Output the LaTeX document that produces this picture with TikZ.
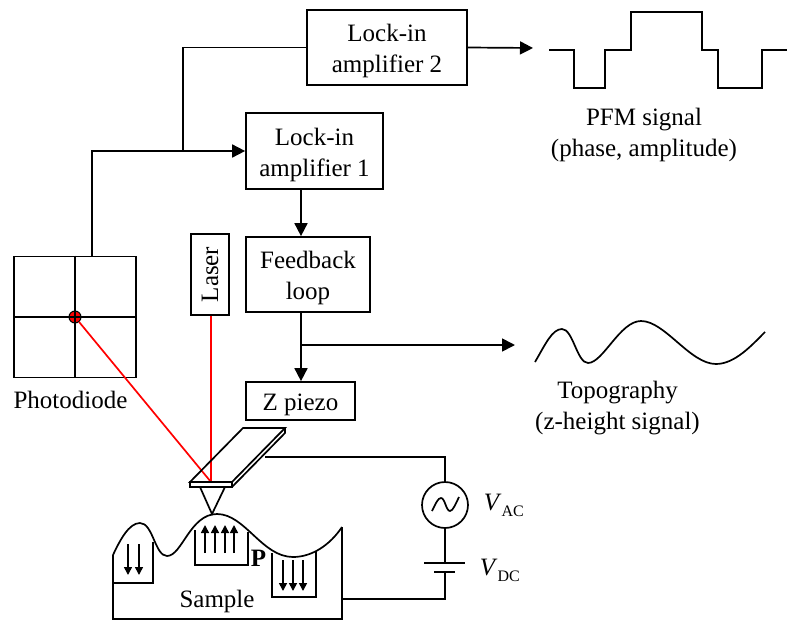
\documentclass[tikz,border=0pt]{standalone}
\usepackage{fontspec}
\setmainfont{Liberation Serif}
\usetikzlibrary{arrows.meta}

\newcommand{\volt}[1]{\textit{V}\raisebox{-6pt}{\fontsize{16}{16}\selectfont #1}}

\begin{document}
\begin{tikzpicture}[x=1pt,y=-1pt,
    line width=1.7pt,
    font=\fontsize{25}{31}\selectfont,
    block/.style ={rectangle, draw, inner sep = 0pt, align=center},
    twolines/.style ={block, text height=55.5pt},
    label/.style ={inner sep = 0pt, align=center},
    arrow/.style ={-{Triangle[length=13pt,width=13pt]}},
    small/.style ={-{Triangle[length=8pt,width=8pt]},line width=1.6pt}]
   \useasboundingbox (0,0) rectangle (787,621);

   \node[twolines, minimum width=160pt, minimum height=75pt] (L2) at (387,47.5) {Lock-in\\amplifier 2};
   \node[twolines, minimum width=137pt, minimum height=76pt] (L1) at (314.5,151) {Lock-in\\amplifier 1};
   \node[twolines, minimum width=124pt, minimum height=75pt] (F) at (308,274.5) {Feedback\\loop};
   \node[block, text height=25pt, minimum width=109pt, minimum height=38pt] (Z) at (300.5,401) {Z piezo};
   \node[block, minimum width=38pt, minimum height=81pt] (L) at (210,274.5) {\rotatebox{90}{Laser}};
   \node[block, minimum width=122pt, minimum height=121pt] (D) at (75,317) {};
   \node[circle, draw, fill=red, inner sep = 0pt, minimum size=12pt, line width=1pt] (R) at (75,317) {};
   \node[circle, draw, inner sep = 0pt, minimum size=46pt] (AC) at (445,505) {};

   \node[label] (T1) at (70.5,399.5) {Photodiode};
   \node[label] (T2) at (644,134.5) {PFM signal\\(phase, amplitude)};
   \node[label] (T3) at (617.5,408) {Topography\\(z-height signal)};
   \node[label] (T4) at (217,601) {Sample};
   \node[label] (T5) at (258.5,558.5) {\textbf{P}};
   \node[label, anchor=base west] (T6) at (483,510) {\volt{AC}};
   \node[label, anchor=base west] (T7) at (479,575) {\volt{DC}};

   \coordinate (A) at (183,151);
   \coordinate (B) at (301,345);
   \coordinate (C) at (533,48);
   \coordinate (E) at (515,345);
   \coordinate (G) at (211,482);
   \coordinate (I) at (265,457);
   \coordinate (J) at (445,563);
   \coordinate (K) at (445,572);
   \coordinate (M) at (342,599);

   % block connections
   \draw[arrow] (D.north -| 92,0) |- (L1.west |- A);
   \draw (A) |- (L2.west);
   \draw[arrow] (L2.east) to (C);
   \draw[arrow] (L1.south -| B) to (F.north -| B);
   \draw[arrow] (F.south -| B) to (Z.north -| B);
   \draw[arrow] (B) to (E);

   % photodiode cross
   \draw (D.north) to (D.south);
   \draw (D.west) to (D.east);

   % laser beam
   \draw[red] (L.south -| G) to (G);
   \draw[red] (R) to (G);

   % cantilever and tip
   \draw (190,482) -- (243,428) -- (285,428) -- (232,482) -- cycle;
   \draw (190,482) rectangle (232,487);
   \draw (232,487) -- (285,433) -- (285,428);
   \draw (200,487) -- (212,514) -- (225,487);

   % sample
   \draw (113,555) .. controls (120,540) and (129,523) .. (140,523)
      .. controls (153,523) and (155,556) .. (167,556)
      .. controls (182,556) and (190,514) .. (217,514)
      .. controls (245,514) and (262,557) .. (293,557)
      .. controls (312,557) and (330,545) .. (342,527);
   \draw (113,555) -- (113,619) -- (342,619) -- (342,527);
   \draw (112,583) -- (153,583) -- (153,542);
   \draw (195,530) -- (195,565) -- (248,565) -- (248,532);
   \draw (272,553) -- (272,597) -- (316,597) -- (316,551);

   % polarisation
   \foreach \x in {128,139} \draw[small] (\x,544) -- (\x,575);
   \foreach \x in {205,215,225,234} \draw[small] (\x,553) -- (\x,525);
   \foreach \x in {283,293,303} \draw[small] (\x,560) -- (\x,591);

   % circuit
   \draw (I) -| (AC.north);
   \draw (AC.south) to (J);
   \draw (424,563) -- (465,563);
   \draw (434,572) -- (455,572);
   \draw (K) |- (M);
   \draw (432,511) .. controls (436,503) and (438,498) .. (441,498)
      .. controls (445,498) and (446,511) .. (450,511)
      .. controls (453,511) and (456,503) .. (459,497);

   % signals
   \draw (549,50) -- (574,50) -- (574,88) -- (605,88) -- (605,50) -- (631,50) -- (631,12)
      -- (702,12) -- (702,50) -- (718,50) -- (718,88) -- (762,88) -- (762,50) -- (787,50);
   \draw (535,362) .. controls (545,345) and (552,329) .. (562,329)
      .. controls (573,329) and (577,363) .. (588,363)
      .. controls (603,363) and (620,321) .. (641,321)
      .. controls (665,321) and (690,364) .. (716,364)
      .. controls (735,364) and (752,345) .. (765,332);
 \end{tikzpicture}
\end{document}
